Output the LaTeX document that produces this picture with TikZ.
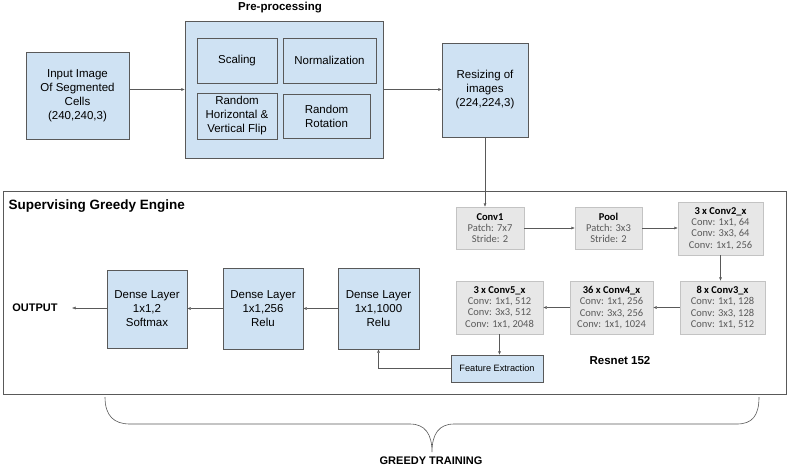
\documentclass[tikz,border=0pt]{standalone}
\usepackage{fontspec}
\setmainfont{Liberation Sans}
\newfontfamily\calibri{Carlito}
\usetikzlibrary{arrows.meta}

\definecolor{boxblue}{HTML}{CFE2F3}
\definecolor{boxgrey}{HTML}{E7E7E7}
\definecolor{linegrey}{HTML}{595959}
\definecolor{resline}{HTML}{C3C3C3}
\definecolor{restext}{HTML}{5A5A5A}

\tikzset{
	bluebox/.style={draw=linegrey, fill=boxblue, align=center, inner sep=0pt, font=\fontsize{11.5}{14}\selectfont},
	resbox/.style={draw=resline, fill=boxgrey, align=center, inner sep=0pt, text=restext, font=\calibri\fontsize{10.5}{11.2}\selectfont},
	conn/.style={draw=linegrey, -{Latex[length=3.5pt,width=3pt]}},
	restitle/.style={font=\bfseries\fontsize{11.5}{14}\selectfont},
}
\newcommand{\rhead}[1]{{\color{black}\bfseries #1}}

\begin{document}
\begin{tikzpicture}[x=1pt, y=-1pt]
	\useasboundingbox (0,0) rectangle (789,469);

	\node[bluebox, minimum width=103, minimum height=87] (input) at (77.5,95.5) {Input Image\\Of Segmented\\Cells\\(240,240,3)};
	\node[bluebox, minimum width=198, minimum height=137] (prep) at (284,89.5) {};
	\node[restitle] (preptitle) at (280,8) {Pre-processing};
	\node[bluebox, minimum width=80, minimum height=45] (scaling) at (237,60.5) {Scaling};
	\node[bluebox, minimum width=93, minimum height=45] (norm) at (329.5,60.5) {Normalization};
	\node[bluebox, minimum width=80, minimum height=46] (flip) at (237,116) {Random\\Horizontal \&\\Vertical Flip};
	\node[bluebox, minimum width=87, minimum height=44] (rot) at (326.5,116) {Random\\Rotation};
	\node[bluebox, minimum width=86, minimum height=94] (resize) at (485,90) {Resizing of\\images\\(224,224,3)};

	\node[draw=linegrey, minimum width=783, minimum height=203, inner sep=0pt] (engine) at (394.5,292.5) {};
	\node[anchor=west, font=\bfseries\fontsize{13.5}{16}\selectfont] (enginetitle) at (5,206) {Supervising Greedy Engine};

	\node[resbox, minimum width=68, minimum height=42] (conv1) at (490,228) {\rhead{Conv1}\\Patch: 7x7\\Stride: 2};
	\node[resbox, minimum width=67, minimum height=42] (pool) at (608.5,228) {\rhead{Pool}\\Patch: 3x3\\Stride: 2};
	\node[resbox, minimum width=85, minimum height=53] (conv2) at (720.5,228.5) {\rhead{3 x Conv2\_x}\\Conv: 1x1, 64\\Conv: 3x3, 64\\Conv: 1x1, 256};
	\node[resbox, minimum width=85, minimum height=53] (conv3) at (722.5,307.5) {\rhead{8 x Conv3\_x}\\Conv: 1x1, 128\\Conv: 3x3, 128\\Conv: 1x1, 512};
	\node[resbox, minimum width=83, minimum height=53] (conv4) at (611.5,307.5) {\rhead{36 x Conv4\_x}\\Conv: 1x1, 256\\Conv: 3x3, 256\\Conv: 1x1, 1024};
	\node[resbox, minimum width=87, minimum height=53] (conv5) at (499.5,307.5) {\rhead{3 x Conv5\_x}\\Conv: 1x1, 512\\Conv: 3x3, 512\\Conv: 1x1, 2048};
	\node[bluebox, minimum width=92, minimum height=27, font=\fontsize{9.2}{11}\selectfont] (feat) at (497,368.5) {Feature Extraction};
	\node[restitle] (resnet) at (620,361) {Resnet 152};

	\node[bluebox, minimum width=81, minimum height=81] (d1000) at (378.5,308.5) {Dense Layer\\1x1,1000\\Relu};
	\node[bluebox, minimum width=80, minimum height=81] (d256) at (263,308.5) {Dense Layer\\1x1,256\\Relu};
	\node[bluebox, minimum width=80, minimum height=78] (d2) at (147,309) {Dense Layer\\1x1,2\\Softmax};
	\node[font=\bfseries\fontsize{11}{13}\selectfont] (output) at (35,308) {OUTPUT};
	\coordinate (outtip) at (72,308);

	\draw[conn] (prep.west -| input.east) -- (prep.west);
	\draw[conn] (prep.east) -- (prep.east -| resize.west);
	\draw[conn] (resize.south) -- (resize.south |- conv1.north);
	\draw[conn] (conv1) -- (pool);
	\draw[conn] (pool.east) -- (pool.east -| conv2.west);
	\draw[conn] (conv2.south) -- (conv2.south |- conv3.north);
	\draw[conn] (conv3) -- (conv4);
	\draw[conn] (conv4) -- (conv5);
	\draw[conn] (conv5.south) -- (conv5.south |- feat.north);
	\draw[conn] (feat.west) -| (d1000.south);
	\draw[conn] (d1000) -- (d256);
	\draw[conn] (d256.west) -- (d256.west -| d2.east);
	\draw[conn] (d2.west |- outtip) -- (outtip);

	\draw[linegrey, line width=0.6pt] (105,397) .. controls (105,416) and (114,424) .. (130,424) -- (410,424)
		.. controls (425,424) and (432,434) .. (432,452)
		.. controls (432,434) and (439,424) .. (454,424) -- (737,424)
		.. controls (752,424) and (759,416) .. (759,397);
	\node[font=\bfseries\fontsize{11}{13}\selectfont] (greedy) at (431,461) {GREEDY TRAINING};
\end{tikzpicture}
\end{document}
